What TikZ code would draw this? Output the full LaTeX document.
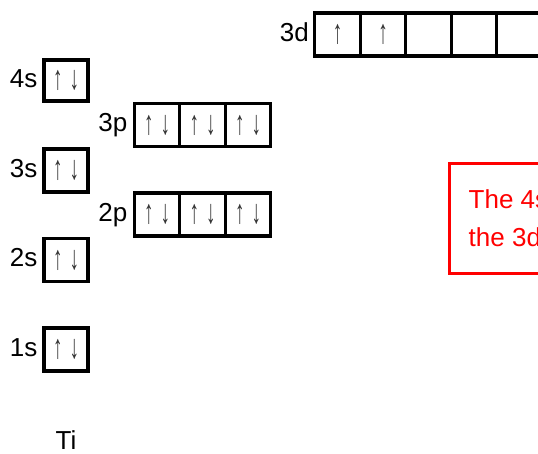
\documentclass[tikz,border=0pt]{standalone}
\usepackage{fontspec}
\setmainfont{Liberation Sans}
\newcommand{\myup}{\scalebox{0.95}[1.7]{↑}}
\newcommand{\mydn}{\scalebox{0.95}[1.7]{↓}}
\newcommand{\myud}{\myup\hspace{7pt}\mydn}
\begin{document}
\begin{tikzpicture}[x=1pt,y=-1pt,
 orb/.style={draw, line width=3.2pt, minimum width=45.5pt, minimum height=43pt, inner sep=0pt, outer sep=0pt, font=\fontsize{20}{24}\selectfont, text=black!80},
 sorb/.style={orb, minimum width=44pt},
 lbl/.style={anchor=base east, inner sep=0pt, font=\fontsize{26}{30}\selectfont},
 note/.style={anchor=base west, inner sep=0pt, text=red, font=\fontsize{26}{30}\selectfont},
]
\useasboundingbox (0,0) rectangle (538,453);
\clip (0,0) rectangle (538,453);
% 3d
\node[orb] (d1) at (337.5,34.5) {\myup};
\node[orb] (d2) at (383,34.5) {\myup};
\node[orb] (d3) at (428.5,34.5) {};
\node[orb] (d4) at (474,34.5) {};
\node[orb] (d5) at (519.5,34.5) {};
\node[lbl] (l3d) at (309,41) {3d};
% 4s
\node[sorb, minimum height=41pt] (s4) at (66,80.5) {\myud};
\node[lbl] (l4s) at (37.5,87) {4s};
% 3p
\node[orb] (p31) at (157,125) {\myud};
\node[orb] (p32) at (202.5,125) {\myud};
\node[orb] (p33) at (248,125) {\myud};
\node[lbl] (l3p) at (127.5,131.5) {3p};
% 3s
\node[sorb] (s3) at (66,170.5) {\myud};
\node[lbl] (l3s) at (37.5,177) {3s};
% 2p
\node[orb] (p21) at (157,214.5) {\myud};
\node[orb] (p22) at (202.5,214.5) {\myud};
\node[orb] (p23) at (248,214.5) {\myud};
\node[lbl] (l2p) at (127.5,221) {2p};
% 2s
\node[sorb] (s2) at (66,260) {\myud};
\node[lbl] (l2s) at (37.5,266.5) {2s};
% 1s
\node[sorb] (s1) at (66,349.5) {\myud};
\node[lbl] (l1s) at (37.5,356) {1s};
% element
\node[anchor=base, font=\fontsize{26}{30}\selectfont, inner sep=0pt] (ti) at (66,449) {Ti};
% note
\draw[red, line width=3pt] (449,163) rectangle (600,273);
\node[note] (n1) at (468.5,208.5) {The 4s};
\node[note] (n2) at (468.5,246.5) {the 3d};
\end{tikzpicture}
\end{document}
